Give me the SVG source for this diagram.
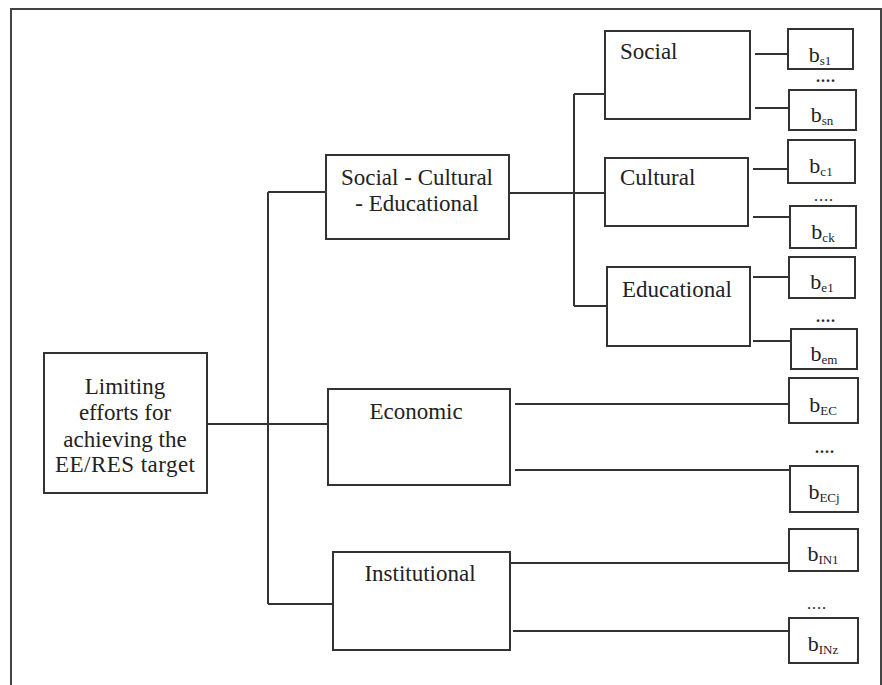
<svg xmlns="http://www.w3.org/2000/svg" width="882" height="685" viewBox="0 0 882 685">
<style>
.box{fill:#fff;stroke:#333;stroke-width:2}
.ln{fill:none;stroke:#333;stroke-width:2}
text{font-family:'Liberation Serif','DejaVu Serif',serif;fill:#222}
.t{font-size:23px}
.c{text-anchor:middle}
.b{font-size:22px;text-anchor:middle}
.s{font-size:13px}
.d{font-size:16px;text-anchor:middle;letter-spacing:1px}
</style>
<rect x="0" y="0" width="882" height="685" fill="#fff"/>
<rect x="11" y="9" width="870" height="690" fill="none" stroke="#444" stroke-width="2"/>
<g id="connectors">
<path class="ln" d="M207 424H328M268 192V604M268 192H326M268 604H333"/>
<path class="ln" d="M509 193H605M574 94V306M574 94H605M574 306H607"/>
<path class="ln" d="M755 54H788M755 108H789M753 169H788M753 217H790M753 277H789M753 341H791"/>
<path class="ln" d="M515 404H789M515 470H790M510 563H789M513 631H789"/>
</g>
<g id="root"><rect class="box" x="44" y="353" width="163" height="140"/>
<text class="t c" x="125" y="394" font-family="Liberation Serif, serif">Limiting</text>
<text class="t c" x="125" y="420" font-family="Liberation Serif, serif">efforts for</text>
<text class="t c" x="125" y="447" font-family="Liberation Serif, serif">achieving the</text>
<text class="t c" x="125" y="472" font-family="Liberation Serif, serif" textLength="140">EE/RES target</text></g>
<g id="sce"><rect class="box" x="326" y="155" width="183" height="84"/>
<text class="t c" x="417" y="185">Social - Cultural</text>
<text class="t c" x="417" y="211">- Educational</text></g>
<g id="economic"><rect class="box" x="328" y="389" width="182" height="96"/>
<text class="t c" x="416" y="419">Economic</text></g>
<g id="institutional"><rect class="box" x="333" y="552" width="177" height="98"/>
<text class="t c" x="420" y="581">Institutional</text></g>
<g id="social"><rect class="box" x="605" y="31" width="145" height="88"/>
<text class="t" x="620" y="59">Social</text></g>
<g id="cultural"><rect class="box" x="605" y="158" width="143" height="68"/>
<text class="t" x="620" y="185">Cultural</text></g>
<g id="educational"><rect class="box" x="607" y="267" width="143" height="79"/>
<text class="t" x="622" y="297">Educational</text></g>
<g id="bs1"><rect class="box" x="788" y="29" width="65" height="40"/><text class="b" x="820" y="62">b<tspan class="s" dy="3">s1</tspan></text></g>
<text class="d" x="826" y="82" font-weight="bold">....</text>
<g id="bsn"><rect class="box" x="789" y="90" width="67" height="40"/><text class="b" x="822" y="122">b<tspan class="s" dy="3">sn</tspan></text></g>
<g id="bc1"><rect class="box" x="788" y="140" width="67" height="43"/><text class="b" x="821" y="173">b<tspan class="s" dy="3">c1</tspan></text></g>
<text class="d" x="824" y="201">....</text>
<g id="bck"><rect class="box" x="790" y="206" width="66" height="42"/><text class="b" x="823" y="239">b<tspan class="s" dy="3">ck</tspan></text></g>
<g id="be1"><rect class="box" x="789" y="257" width="66" height="41"/><text class="b" x="822" y="289">b<tspan class="s" dy="3">e1</tspan></text></g>
<text class="d" x="826" y="322" font-weight="bold">....</text>
<g id="bem"><rect class="box" x="791" y="329" width="66" height="40"/><text class="b" x="824" y="361">b<tspan class="s" dy="3">em</tspan></text></g>
<g id="bEC"><rect class="box" x="789" y="378" width="69" height="45"/><text class="b" x="823" y="412">b<tspan class="s" dy="3">EC</tspan></text></g>
<text class="d" x="825" y="453" font-weight="bold">....</text>
<g id="bECj"><rect class="box" x="790" y="466" width="68" height="46"/><text class="b" x="824" y="499">b<tspan class="s" dy="3">ECj</tspan></text></g>
<g id="bIN1"><rect class="box" x="789" y="529" width="69" height="42"/><text class="b" x="823" y="561">b<tspan class="s" dy="3">IN1</tspan></text></g>
<text class="d" x="817" y="609">....</text>
<g id="bINz"><rect class="box" x="789" y="618" width="69" height="45"/><text class="b" x="823" y="651">b<tspan class="s" dy="3">INz</tspan></text></g>
</svg>
